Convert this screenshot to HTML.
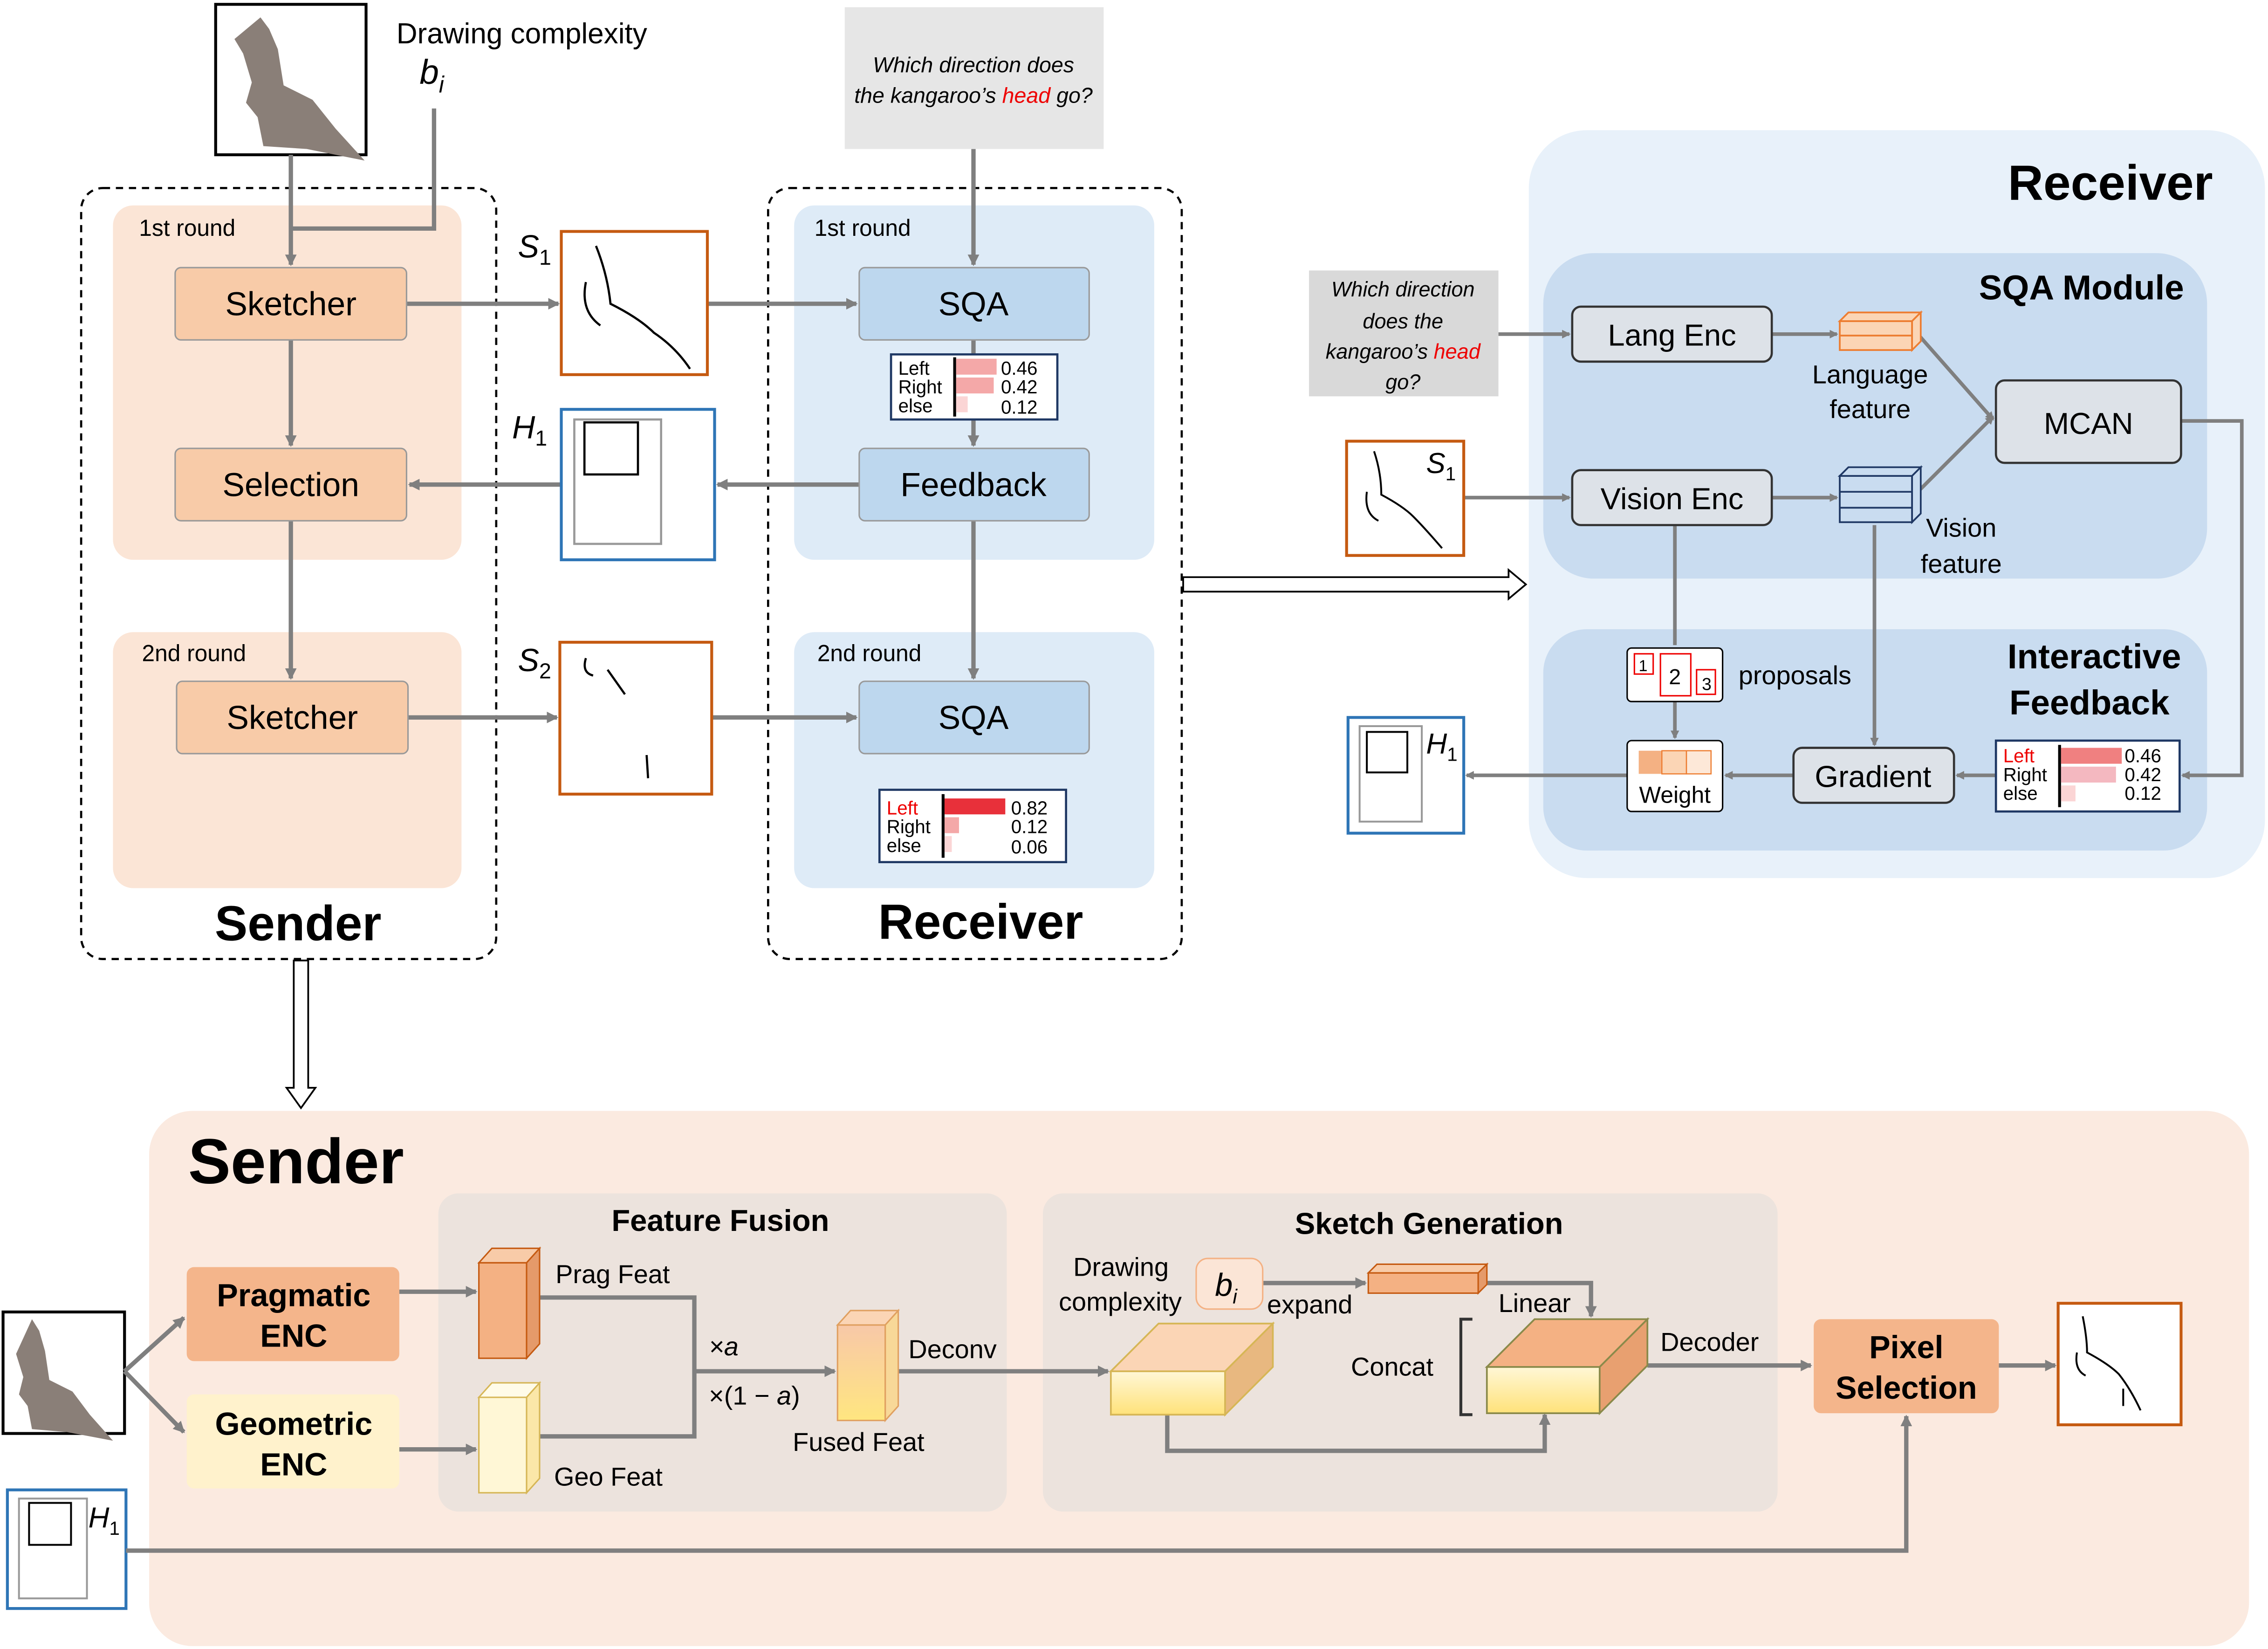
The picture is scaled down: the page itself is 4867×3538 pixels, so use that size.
<!DOCTYPE html>
<html><head><meta charset="utf-8"><style>
html,body{margin:0;padding:0;background:#fff}
svg{display:block}
text{font-family:"Liberation Sans",sans-serif}
</style></head><body>
<svg width="4867" height="3538" viewBox="0 0 1568 1140" xmlns="http://www.w3.org/2000/svg">
<defs>
<marker id="a" markerWidth="8" markerHeight="8" refX="7" refY="4" orient="auto" markerUnits="userSpaceOnUse"><path d="M0,0 L8,4 L0,8 z" fill="#7f7f7f"/></marker>
<marker id="as" markerWidth="6" markerHeight="6" refX="5" refY="3" orient="auto" markerUnits="userSpaceOnUse"><path d="M0,0 L6,3 L0,6 z" fill="#7f7f7f"/></marker>
<linearGradient id="yg" x1="0" y1="0" x2="0" y2="1"><stop offset="0" stop-color="#fff7d6"/><stop offset="1" stop-color="#ffe27a"/></linearGradient>
<linearGradient id="fg" x1="0" y1="0" x2="0" y2="1"><stop offset="0" stop-color="#f8c8a8"/><stop offset="1" stop-color="#ffe680"/></linearGradient>
</defs>
<g id="kang">
<rect x="149" y="3" width="104" height="104" fill="#fff" stroke="#000" stroke-width="2"/>
<path d="M180,12 l6,8 l6,14 l4,25 l20,10 l16,20 l20,22 l-20,-4 l-20,-4 l-30,-2 l-4,-20 l-8,-10 l4,-14 l-6,-20 l-6,-10z" fill="#8a7f78"/>
</g>
<text x="274" y="30" font-size="20">Drawing complexity</text>
<text x="290" y="58" font-size="24" font-style="italic" font-family="Liberation Serif">b<tspan font-size="16" dy="6">i</tspan></text>
<!-- Sender dashed -->
<rect x="56" y="130" width="287" height="533" rx="15" fill="none" stroke="#000" stroke-dasharray="5,4" stroke-width="1.5"/>
<rect x="78" y="142" width="241" height="245" rx="14" fill="#fbe5d6"/>
<rect x="78" y="437" width="241" height="177" rx="14" fill="#fbe5d6"/>
<text x="96" y="163" font-size="16">1st round</text>
<text x="98" y="457" font-size="16">2nd round</text>
<!-- Receiver dashed -->
<rect x="531" y="130" width="286" height="533" rx="15" fill="none" stroke="#000" stroke-dasharray="5,4" stroke-width="1.5"/>
<rect x="549" y="142" width="249" height="245" rx="14" fill="#deebf7"/>
<rect x="549" y="437" width="249" height="177" rx="14" fill="#deebf7"/>
<text x="563" y="163" font-size="16">1st round</text>
<text x="565" y="457" font-size="16">2nd round</text>
<!-- left arrows -->
<g stroke="#7f7f7f" stroke-width="3" fill="none">
<path d="M201,107 V183" marker-end="url(#a)"/>
<path d="M300,75 V158 H201"/>
<path d="M201,235 V308" marker-end="url(#a)"/>
<path d="M201,360 V469" marker-end="url(#a)"/>
<path d="M281,210 H386" marker-end="url(#a)"/>
<path d="M489,210 H592" marker-end="url(#a)"/>
<path d="M594,335 H496" marker-end="url(#a)"/>
<path d="M388,335 H283" marker-end="url(#a)"/>
<path d="M282,496 H385" marker-end="url(#a)"/>
<path d="M492,496 H592" marker-end="url(#a)"/>
<path d="M673,103 V183" marker-end="url(#a)"/>
<path d="M673,235 V308" marker-end="url(#a)"/>
<path d="M673,360 V469" marker-end="url(#a)"/>
</g>
<g font-size="23" text-anchor="middle">
<rect x="121" y="185" width="160" height="50" rx="4" fill="#f8cba8" stroke="#999"/><text x="201" y="218">Sketcher</text>
<rect x="121" y="310" width="160" height="50" rx="4" fill="#f8cba8" stroke="#999"/><text x="201" y="343">Selection</text>
<rect x="122" y="471" width="160" height="50" rx="4" fill="#f8cba8" stroke="#999"/><text x="202" y="504">Sketcher</text>
</g>
<text x="206" y="650" font-size="34" font-weight="bold" text-anchor="middle">Sender</text>
<g font-size="23" text-anchor="middle">
<rect x="594" y="185" width="159" height="50" rx="4" fill="#bdd7ee" stroke="#999"/><text x="673" y="218">SQA</text>
<rect x="594" y="310" width="159" height="50" rx="4" fill="#bdd7ee" stroke="#999"/><text x="673" y="343">Feedback</text>
<rect x="594" y="471" width="159" height="50" rx="4" fill="#bdd7ee" stroke="#999"/><text x="673" y="504">SQA</text>
</g>
<text x="678" y="649" font-size="34" font-weight="bold" text-anchor="middle">Receiver</text>
<!-- question -->
<rect x="584" y="5" width="179" height="98" fill="#e6e6e6"/>
<text x="673" y="50" font-size="15" font-style="italic" text-anchor="middle">Which direction does</text>
<text x="673" y="71" font-size="15" font-style="italic" text-anchor="middle">the kangaroo’s <tspan fill="#e00">head</tspan> go?</text>
<!-- sketches -->
<rect x="388" y="160" width="101" height="99" fill="#fff" stroke="#c55a11" stroke-width="2"/>
<path d="M412,170 q8,20 10,40 q20,10 30,20 q15,10 25,25 M405,195 q-4,20 10,30" fill="none" stroke="#000" stroke-width="1.5"/>
<text x="358" y="178" font-size="22" font-style="italic" font-family="Liberation Serif">S<tspan font-size="15" dy="5" font-style="normal">1</tspan></text>
<rect x="388" y="283" width="106" height="104" fill="#fff" stroke="#2e75b6" stroke-width="2"/>
<rect x="397" y="290" width="60" height="86" fill="none" stroke="#999" stroke-width="1.5"/>
<rect x="404" y="292" width="37" height="36" fill="none" stroke="#000" stroke-width="1.5"/>
<text x="354" y="303" font-size="22" font-style="italic" font-family="Liberation Serif">H<tspan font-size="15" dy="5" font-style="normal">1</tspan></text>
<rect x="387" y="444" width="105" height="105" fill="#fff" stroke="#c55a11" stroke-width="2"/>
<path d="M405,455 q-3,10 5,12 M420,463 l12,17 M447,522 l1,16" fill="none" stroke="#000" stroke-width="1.5"/>
<text x="358" y="464" font-size="22" font-style="italic" font-family="Liberation Serif">S<tspan font-size="15" dy="5" font-style="normal">2</tspan></text>
<!-- bar charts -->
<rect x="616" y="245" width="115" height="45" fill="#fff" stroke="#1f3864" stroke-width="1.5"/>
<line x1="660" y1="247" x2="660" y2="288" stroke="#000" stroke-width="2"/>
<rect x="661" y="248" width="28" height="11" fill="#f4a8a8"/><rect x="661" y="261" width="26" height="11" fill="#f4a8a8"/><rect x="661" y="274" width="8" height="11" fill="#fbd5d5"/>
<g font-size="13"><text x="621" y="259">Left</text><text x="621" y="272">Right</text><text x="621" y="285">else</text><text x="692" y="259">0.46</text><text x="692" y="272">0.42</text><text x="692" y="286">0.12</text></g>
<rect x="608" y="546" width="129" height="50" fill="#fff" stroke="#1f3864" stroke-width="1.5"/>
<line x1="652" y1="549" x2="652" y2="593" stroke="#000" stroke-width="2"/>
<rect x="653" y="552" width="42" height="11" fill="#e8303a"/><rect x="653" y="565" width="10" height="11" fill="#f4a8a8"/><rect x="653" y="578" width="5" height="11" fill="#fbd5d5"/>
<g font-size="13"><text x="613" y="563" fill="#e00">Left</text><text x="613" y="576">Right</text><text x="613" y="589">else</text><text x="699" y="563">0.82</text><text x="699" y="576">0.12</text><text x="699" y="590">0.06</text></g>
<!-- double arrows -->
<path d="M818,399 H1043 V394 L1055,404 L1043,414 V409 H818 z" fill="#fff" stroke="#000" stroke-width="1.2"/>
<path d="M203,664 V752 H198 L208,766 L218,752 H213 V664 z" fill="#fff" stroke="#000" stroke-width="1.2"/>
<!-- Right receiver -->
<rect x="1057" y="90" width="509" height="517" rx="40" fill="#e8f1fa"/>
<text x="1530" y="138" font-size="34" font-weight="bold" text-anchor="end">Receiver</text>
<rect x="1067" y="175" width="459" height="225" rx="35" fill="#c9dcf0"/>
<text x="1510" y="207" font-size="24" font-weight="bold" text-anchor="end">SQA Module</text>
<rect x="1067" y="435" width="459" height="153" rx="30" fill="#c9dcf0"/>
<text x="1508" y="462" font-size="24" font-weight="bold" text-anchor="end">Interactive</text>
<text x="1500" y="494" font-size="24" font-weight="bold" text-anchor="end">Feedback</text>
<g stroke="#7f7f7f" stroke-width="2.5" fill="none">
<path d="M1036,231 H1085" marker-end="url(#as)"/>
<path d="M1012,344 H1085" marker-end="url(#as)"/>
<path d="M1225,231 H1270" marker-end="url(#as)"/>
<path d="M1225,344 H1270" marker-end="url(#as)"/>
<path d="M1326,231 L1378,290" marker-end="url(#as)"/>
<path d="M1326,340 L1378,288" marker-end="url(#as)"/>
<path d="M1508,291 H1550 V536 H1509" marker-end="url(#as)"/>
<path d="M1380,536 H1353" marker-end="url(#as)"/>
<path d="M1240,536 H1193" marker-end="url(#as)"/>
<path d="M1125,536 H1014" marker-end="url(#as)"/>
<path d="M1296,363 V515" marker-end="url(#as)"/>
<path d="M1158,363 V446"/>
<path d="M1158,485 V510" marker-end="url(#as)"/>
</g>
<g font-size="21" text-anchor="middle">
<rect x="1087" y="212" width="138" height="38" rx="6" fill="#dde2e8" stroke="#333" stroke-width="1.5"/><text x="1156" y="239">Lang Enc</text>
<rect x="1087" y="325" width="138" height="38" rx="6" fill="#dde2e8" stroke="#333" stroke-width="1.5"/><text x="1156" y="352">Vision Enc</text>
<rect x="1380" y="263" width="128" height="57" rx="6" fill="#dde2e8" stroke="#333" stroke-width="1.5"/><text x="1444" y="300">MCAN</text>
<rect x="1240" y="517" width="111" height="38" rx="6" fill="#dde2e8" stroke="#333" stroke-width="1.5"/><text x="1295" y="544">Gradient</text>
</g>
<rect x="905" y="187" width="131" height="87" fill="#d9d9d9"/>
<g font-size="14.5" font-style="italic" text-anchor="middle"><text x="970" y="205">Which direction</text><text x="970" y="227">does the</text><text x="970" y="248">kangaroo’s <tspan fill="#e00">head</tspan></text><text x="970" y="269">go?</text></g>
<rect x="931" y="305" width="81" height="79" fill="#fff" stroke="#c55a11" stroke-width="2"/>
<path d="M950,312 q5,15 5,30 q15,8 22,15 q8,8 20,22 M945,340 q-2,15 8,20" fill="none" stroke="#000" stroke-width="1.3"/>
<text x="986" y="327" font-size="20" font-style="italic" font-family="Liberation Serif">S<tspan font-size="13" dy="5" font-style="normal">1</tspan></text>
<!-- features -->
<g stroke="#ed7d31" stroke-width="1.2" fill="#fbd5b5"><rect x="1272" y="222" width="50" height="20"/><path d="M1272,222 l6,-6 h50 l-6,6 z"/><path d="M1322,222 l6,-6 v20 l-6,6z"/><line x1="1272" y1="232" x2="1322" y2="232"/></g>
<text x="1293" y="265" font-size="18" text-anchor="middle">Language</text><text x="1293" y="289" font-size="18" text-anchor="middle">feature</text>
<g stroke="#1f3864" stroke-width="1.2" fill="#c9dcf0"><rect x="1272" y="329" width="50" height="32"/><path d="M1272,329 l6,-6 h50 l-6,6 z"/><path d="M1322,329 l6,-6 v32 l-6,6z"/><line x1="1272" y1="340" x2="1322" y2="340"/><line x1="1272" y1="351" x2="1322" y2="351"/></g>
<text x="1356" y="371" font-size="18" text-anchor="middle">Vision</text><text x="1356" y="396" font-size="18" text-anchor="middle">feature</text>
<rect x="1125" y="448" width="66" height="37" rx="3" fill="#fff" stroke="#000"/>
<rect x="1130" y="452" width="13" height="14" fill="none" stroke="#e00"/><text x="1136" y="464" font-size="11" text-anchor="middle">1</text>
<rect x="1148" y="452" width="21" height="29" fill="none" stroke="#e00"/><text x="1158" y="473" font-size="15" text-anchor="middle">2</text>
<rect x="1173" y="463" width="13" height="17" fill="none" stroke="#e00"/><text x="1180" y="477" font-size="12" text-anchor="middle">3</text>
<text x="1202" y="473" font-size="18">proposals</text>
<rect x="1125" y="512" width="66" height="49" rx="3" fill="#fff" stroke="#000"/>
<rect x="1133" y="519" width="16" height="16" fill="#f4b183"/><rect x="1149" y="519" width="17" height="16" fill="#fbd5b5" stroke="#ed7d31" stroke-width=".8"/><rect x="1166" y="519" width="17" height="16" fill="#fde8d8" stroke="#ed7d31" stroke-width=".8"/>
<text x="1158" y="555" font-size="16" text-anchor="middle">Weight</text>
<rect x="1380" y="512" width="127" height="49" fill="#fff" stroke="#1f3864" stroke-width="1.5"/>
<line x1="1424" y1="515" x2="1424" y2="558" stroke="#000" stroke-width="2"/>
<rect x="1425" y="517" width="42" height="11" fill="#f08080"/><rect x="1425" y="530" width="38" height="11" fill="#f4b8c0"/><rect x="1425" y="543" width="10" height="11" fill="#fbd5d5"/>
<g font-size="13"><text x="1385" y="527" fill="#e00">Left</text><text x="1385" y="540">Right</text><text x="1385" y="553">else</text><text x="1469" y="527">0.46</text><text x="1469" y="540">0.42</text><text x="1469" y="553">0.12</text></g>
<rect x="932" y="496" width="80" height="80" fill="#fff" stroke="#2e75b6" stroke-width="2"/>
<rect x="940" y="502" width="43" height="66" fill="none" stroke="#999" stroke-width="1.3"/>
<rect x="945" y="506" width="28" height="28" fill="none" stroke="#000" stroke-width="1.3"/>
<text x="986" y="521" font-size="20" font-style="italic" font-family="Liberation Serif">H<tspan font-size="13" dy="5" font-style="normal">1</tspan></text>
<!-- Bottom Sender -->
<rect x="103" y="768" width="1452" height="370" rx="30" fill="#fbeae0"/>
<text x="130" y="818" font-size="44" font-weight="bold">Sender</text>
<rect x="303" y="825" width="393" height="220" rx="14" fill="#ece3dd"/>
<text x="498" y="851" font-size="21" font-weight="bold" text-anchor="middle">Feature Fusion</text>
<rect x="721" y="825" width="508" height="220" rx="14" fill="#ece3dd"/>
<text x="988" y="853" font-size="21" font-weight="bold" text-anchor="middle">Sketch Generation</text>
<rect x="129" y="876" width="147" height="65" rx="5" fill="#f4b58b"/>
<text x="203" y="903" font-size="22" font-weight="bold" text-anchor="middle">Pragmatic</text><text x="203" y="931" font-size="22" font-weight="bold" text-anchor="middle">ENC</text>
<rect x="129" y="964" width="147" height="65" rx="5" fill="#fff2cc"/>
<text x="203" y="992" font-size="22" font-weight="bold" text-anchor="middle">Geometric</text><text x="203" y="1020" font-size="22" font-weight="bold" text-anchor="middle">ENC</text>
<rect x="2" y="907" width="84" height="84" fill="#fff" stroke="#000" stroke-width="2"/>
<path d="M22,912 l5,8 l4,14 l3,20 l16,8 l12,16 l16,18 l-16,-3 l-16,-3 l-24,-2 l-3,-16 l-6,-8 l3,-12 l-5,-16z" fill="#8a7f78"/>
<rect x="5" y="1030" width="82" height="82" fill="#fff" stroke="#2e75b6" stroke-width="2"/>
<rect x="13" y="1036" width="47" height="69" fill="none" stroke="#999" stroke-width="1.3"/>
<rect x="20" y="1039" width="29" height="29" fill="none" stroke="#000" stroke-width="1.3"/>
<text x="61" y="1056" font-size="20" font-style="italic" font-family="Liberation Serif">H<tspan font-size="13" dy="5" font-style="normal">1</tspan></text>
<g stroke="#7f7f7f" stroke-width="3" fill="none">
<path d="M86,948 L127,911" marker-end="url(#a)"/>
<path d="M86,948 L127,990" marker-end="url(#a)"/>
<path d="M276,893 H329" marker-end="url(#a)"/>
<path d="M276,1002 H329" marker-end="url(#a)"/>
<path d="M373,897 H480 V993 H373"/>
<path d="M480,948 H577" marker-end="url(#a)"/>
<path d="M621,948 H766" marker-end="url(#a)"/>
<path d="M873,887 L944,887" marker-end="url(#a)"/>
<path d="M1028,887 H1100 V910" marker-end="url(#a)"/>
<path d="M807,978 V1003 H1068 V978" marker-end="url(#a)"/>
<path d="M1139,944 H1252" marker-end="url(#a)"/>
<path d="M1382,944 H1421" marker-end="url(#a)"/>
<path d="M87,1072 H1318 V979" marker-end="url(#a)"/>
</g>
<!-- cubes -->
<g stroke="#c55a11" stroke-width="1" fill="#f4b183"><rect x="331" y="873" width="33" height="66"/><path d="M331,873 l9,-10 h33 l-9,10z" fill="#f8cba8"/><path d="M364,873 l9,-10 v66 l-9,10z" fill="#e59a6a"/></g>
<g stroke="#d6b656" stroke-width="1" fill="#fff7d6"><rect x="331" y="966" width="33" height="66"/><path d="M331,966 l9,-10 h33 l-9,10z" fill="#fffbe8"/><path d="M364,966 l9,-10 v66 l-9,10z" fill="#fbe7a8"/></g>
<text x="384" y="887" font-size="18">Prag Feat</text>
<text x="383" y="1027" font-size="18">Geo Feat</text>
<g stroke="#e0a060" stroke-width="1" fill="url(#fg)"><rect x="579" y="916" width="33" height="66"/><path d="M579,916 l9,-10 h33 l-9,10z" fill="#fbd5b5"/><path d="M612,916 l9,-10 v66 l-9,10z" fill="#f8d898"/></g>
<text x="548" y="1003" font-size="18">Fused Feat</text>
<text x="628" y="939" font-size="18">Deconv</text>
<text x="490" y="937" font-size="18" font-style="italic" font-family="Liberation Serif">×a</text>
<text x="490" y="971" font-size="18" font-family="Liberation Serif">×(1 − <tspan font-style="italic">a</tspan>)</text>
<text x="742" y="882" font-size="18">Drawing</text><text x="732" y="906" font-size="18">complexity</text>
<rect x="827" y="870" width="46" height="35" rx="8" fill="#fbe5d6" stroke="#f4b183"/>
<text x="840" y="896" font-size="22" font-style="italic" font-family="Liberation Serif">b<tspan font-size="14" dy="5">i</tspan></text>
<text x="876" y="908" font-size="18">expand</text>
<g stroke="#c55a11" stroke-width="1"><rect x="946" y="880" width="76" height="14" fill="#f4b183"/><path d="M946,880 l6,-6 h76 l-6,6z" fill="#f8cba8"/><path d="M1022,880 l6,-6 v14 l-6,6z" fill="#e59a6a"/></g>
<text x="1036" y="907" font-size="18">Linear</text>
<g stroke="#d6b656" stroke-width="1.2"><rect x="768" y="948" width="79" height="30" fill="url(#yg)"/><path d="M768,948 l33,-33 h79 l-33,33z" fill="#fbd5b5"/><path d="M847,948 l33,-33 v30 l-33,33z" fill="#e8b880"/></g>
<g stroke="#8a8a4a" stroke-width="1.2"><rect x="1028" y="945" width="78" height="32" fill="url(#yg)"/><path d="M1028,945 l33,-33 h78 l-33,33z" fill="#f4b183"/><path d="M1106,945 l33,-33 v32 l-33,33z" fill="#e8a070"/></g>
<text x="934" y="951" font-size="18">Concat</text>
<path d="M1018,912 h-8 v66 h8" fill="none" stroke="#333" stroke-width="2"/>
<text x="1148" y="934" font-size="18">Decoder</text>
<rect x="1254" y="912" width="128" height="65" rx="5" fill="#f4b58b"/>
<text x="1318" y="939" font-size="22" font-weight="bold" text-anchor="middle">Pixel</text><text x="1318" y="967" font-size="22" font-weight="bold" text-anchor="middle">Selection</text>
<rect x="1423" y="901" width="85" height="84" fill="#fff" stroke="#c55a11" stroke-width="2"/>
<path d="M1440,910 q3,15 3,25 q15,8 22,15 q8,10 15,25 M1436,935 q-2,12 6,16 M1468,960 v12" fill="none" stroke="#000" stroke-width="1.3"/>
</svg>
</body></html>
